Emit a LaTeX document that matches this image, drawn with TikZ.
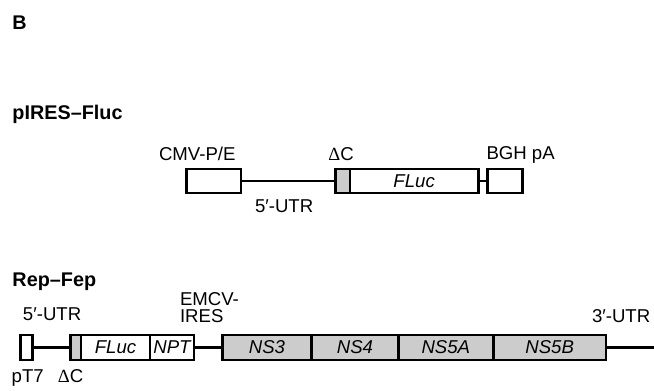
\documentclass[tikz,border=0pt]{standalone}
\usepackage{fontspec}
\setmainfont{Liberation Sans}
\newfontfamily\dserif{Liberation Serif}
\definecolor{boxgray}{RGB}{204,204,204}
\begin{document}
\begin{tikzpicture}[x=1pt,y=-1pt,
  every node/.style={inner sep=0pt,outer sep=0pt,font=\fontsize{18.6}{17}\selectfont},
  seg/.style={draw,line width=2.6pt,minimum height=24pt,font=\fontsize{18.6}{17}\selectfont\itshape},
  segw/.style={seg,fill=white},
  segg/.style={seg,fill=boxgray},
  lbl/.style={anchor=base west},
  ttl/.style={anchor=base west,font=\fontsize{19.8}{20}\selectfont\bfseries},
  link/.style={line width=2.3pt}]
\useasboundingbox (0,0) rectangle (654,391);
% titles
\node[ttl] (tB) at (12.5,29) {B};
\node[ttl] (t1) at (12.5,119) {pIRES–Fluc};
\node[ttl] (t2) at (12.5,286) {Rep–Fep};
% pIRES-Fluc construct
\node[segw,minimum width=54.3pt] (cmv) at (213.85,181) {};
\node[segg,minimum width=14.3pt] (dc1) at (342.85,181) {};
\node[segw,minimum width=128.3pt] (fl1) at (414.15,181) {FLuc};
\node[segw,minimum width=35.4pt] (bgh) at (505,181) {};
\draw[link] (cmv.east) -- (dc1.west);
\draw[link] (fl1.east) -- (bgh.west);
\node[anchor=base east] (lcmv) at (235.5,160) {CMV-P/E};
\node[anchor=base] (ldc1) at (341,160) {{\dserif Δ}C};
\node[lbl] (lbgh) at (486.5,159) {BGH pA};
\node[lbl] (lutr1) at (255,212) {5′-UTR};
% Rep-Fep construct
\node[segw,minimum width=11.6pt,minimum height=24.7pt] (t7) at (26.5,347.5) {};
\node[segg,minimum width=10.3pt,minimum height=24.7pt] (dc2) at (75.85,347.5) {};
\node[segw,minimum width=69pt,minimum height=24.7pt] (fl2) at (115.5,347.5) {FLuc};
\node[segw,minimum width=44pt,minimum height=24.7pt] (npt) at (172,347.5) {NPT};
\node[segg,minimum width=89.4pt,minimum height=24.7pt] (ns3) at (267,347.5) {NS3};
\node[segg,minimum width=86.6pt,minimum height=24.7pt] (ns4) at (355,347.5) {NS4};
\node[segg,minimum width=95pt,minimum height=24.7pt] (ns5a) at (445.8,347.5) {NS5A};
\node[segg,minimum width=112.7pt,minimum height=24.7pt] (ns5b) at (549.65,347.5) {NS5B};
\coordinate (end) at (654,347.5);
\draw[link] (t7.east) -- (dc2.west);
\draw[link] (npt.east) -- (ns3.west);
\draw[link] (ns5b.east) -- (end);
\node[lbl] (lutr2) at (23,320) {5′-UTR};
\node[lbl] (lemc1) at (180,305) {EMCV-};
\node[lbl] (lemc2) at (180,322) {IRES};
\node[lbl] (lutr3) at (592,322) {3′-UTR};
\node[lbl] (lt7) at (11.7,382) {pT7};
\node[anchor=base] (ldc2) at (70.5,382) {{\dserif Δ}C};
\end{tikzpicture}
\end{document}
